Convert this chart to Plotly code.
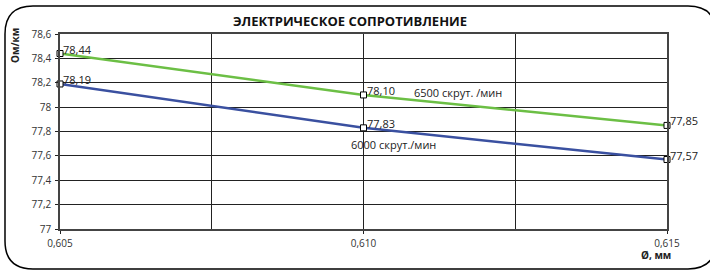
import plotly.graph_objects as go

# Data
diam = [0.605, 0.610, 0.615]
r6500 = [78.44, 78.10, 77.85]
r6000 = [78.19, 77.83, 77.57]
series_names = ["6500 скрут. /мин", "6000 скрут./мин"]
title = "ЭЛЕКТРИЧЕСКОЕ СОПРОТИВЛЕНИЕ"
x_ticks = [0.605, 0.610, 0.615]
x_ticktext = ["0,605", "0,610", "0,615"]

W, H = 710, 270
ML, MR, MT, MB = 60, 43, 34, 40.5
PW, PH = W - ML - MR, H - MT - MB

def px(x):
    return (x - ML) / PW

def py(y):
    return 1 - (y - MT) / PH

FONT = "Open Sans"
GREEN = "#6cbf45"
BLUE = "#3a50a0"

fig = go.Figure()
for vals, col in [(r6500, GREEN), (r6000, BLUE)]:
    fig.add_trace(go.Scatter(
        x=diam, y=vals, mode="lines+markers",
        line=dict(color=col, width=2.5),
        marker=dict(symbol="square", size=6, color="white",
                    line=dict(color="black", width=1)),
        cliponaxis=False, showlegend=False, hoverinfo="skip",
    ))
    for xv, yv in zip(diam, vals):
        fig.add_annotation(x=xv, y=yv, text=f"{yv:.2f}".replace(".", ","),
                           xanchor="left", yanchor="bottom", xshift=1, yshift=-5,
                           showarrow=False,
                           font=dict(family=FONT, size=11, color="#222"))

# series labels
fig.add_annotation(x=0.61156, y=78.117, text=series_names[0], showarrow=False,
                   font=dict(family=FONT, size=11, color="#222"))
fig.add_annotation(x=0.61049, y=77.69, text=series_names[1], showarrow=False,
                   font=dict(family=FONT, size=11, color="#222"))

# axis titles
fig.add_annotation(xref="paper", yref="paper", x=px(15), y=py(46), text="<b>Ом/км</b>",
                   textangle=-90, showarrow=False, xanchor="center", yanchor="middle",
                   font=dict(family=FONT, size=10, color="#222"))
fig.add_annotation(xref="paper", yref="paper", x=px(656), y=py(256), text="<b>Ø, мм</b>",
                   showarrow=False, xanchor="center", yanchor="middle",
                   font=dict(family=FONT, size=10, color="#222"))

# rounded border
x0, y0, x1, y1, r = 5, 6, 716, 269.5, 28
def P(x, y):
    return f"{px(x):.5f},{py(y):.5f}"
path = (f"M {P(x0 + r, y0)} L {P(x1 - r, y0)} Q {P(x1, y0)} {P(x1, y0 + r)} "
        f"L {P(x1, y1 - r)} Q {P(x1, y1)} {P(x1 - r, y1)} "
        f"L {P(x0 + r, y1)} Q {P(x0, y1)} {P(x0, y1 - r)} "
        f"L {P(x0, y0 + r)} Q {P(x0, y0)} {P(x0 + r, y0)} Z")
fig.add_shape(type="path", xref="paper", yref="paper", path=path,
              line=dict(color="black", width=1.5), layer="below")

fig.update_layout(
    width=W, height=H,
    margin=dict(l=ML, r=MR, t=MT, b=MB, pad=0),
    paper_bgcolor="white", plot_bgcolor="white",
    separators=", ",
    title=dict(text=f"<b>{title}</b>", x=350 / W, xanchor="center", y=1 - 21 / H,
               yanchor="middle", font=dict(family=FONT, size=13, color="#111")),
    font=dict(family=FONT, size=10, color="#333"),
    xaxis=dict(range=[0.605, 0.615], tickvals=x_ticks, ticktext=x_ticktext,
               showgrid=True, gridcolor="#222", gridwidth=1,
               minor=dict(dtick=0.0025, tick0=0.605, showgrid=True, gridcolor="#222", gridwidth=1),
               ticks="outside", ticklen=3, tickcolor="#222",
               showline=True, linecolor="#444", linewidth=1.5, mirror=True,
               zeroline=False, ticklabelstandoff=1,
               tickfont=dict(family=FONT, size=10, color="#333")),
    yaxis=dict(range=[77, 78.6], dtick=0.2, tick0=77,
               showgrid=True, gridcolor="#222", gridwidth=1,
               ticks="outside", ticklen=3, tickcolor="#222",
               showline=True, linecolor="#444", linewidth=1.5, mirror=True,
               zeroline=False, ticklabelstandoff=2,
               tickfont=dict(family=FONT, size=10, color="#333")),
)

fig.write_html("out.html", config={"displayModeBar": False},
               post_script="document.body.style.margin='0';")
